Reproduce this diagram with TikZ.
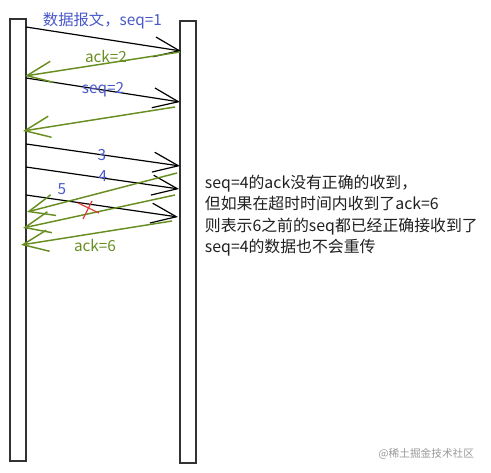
\documentclass[tikz,border=0pt]{standalone}
\usepackage{fontspec}
\newfontfamily\cjk{Noto Sans CJK SC}
\usetikzlibrary{arrows.meta}

\definecolor{seqblue}{RGB}{72,88,200}
\definecolor{ackgreen}{RGB}{104,142,34}
\definecolor{barline}{RGB}{50,50,50}
\definecolor{lossred}{RGB}{224,60,60}

\tikzset{every picture/.style={line width=0.75pt}}
\tikzset{
	host/.style={draw=barline, line width=1.6pt},
	segment/.style={draw=black, line width=0.9pt, -{Straight Barb[length=19pt,width=15pt]}},
	reply/.style={draw=ackgreen, line width=1.1pt, -{Straight Barb[length=19pt,width=16pt]}},
	seqlabel/.style={text=seqblue, font=\cjk\fontsize{11.5}{14}\selectfont},
	acklabel/.style={text=ackgreen, font=\cjk\fontsize{11.5}{14}\selectfont},
	note/.style={text=black!88, font=\cjk\fontsize{11.9}{16}\selectfont, align=left},
}

\begin{document}
\begin{tikzpicture}[x=0.75pt,y=0.75pt,yscale=-1,xscale=1]
	\useasboundingbox (0,0) rectangle (491,473);

	%Shape: Rectangle [sender]
	\draw [host] (10,19) rectangle (26,461);
	%Shape: Rectangle [receiver]
	\draw [host] (180,21) rectangle (196,463);

	% end points on the two hosts
	\coordinate (s1a) at (26,27);   \coordinate (s1b) at (181,51);
	\coordinate (a2a) at (180,52);  \coordinate (a2b) at (25,76);
	\coordinate (s2a) at (26,78);   \coordinate (s2b) at (180,102);
	\coordinate (a3a) at (175,107); \coordinate (a3b) at (23,131);
	\coordinate (s3a) at (26,144);  \coordinate (s3b) at (180,166);
	\coordinate (s4a) at (26,167);  \coordinate (s4b) at (179,189);
	\coordinate (s5a) at (26,195);  \coordinate (s5b) at (178,217);
	\coordinate (a4a) at (177,173); \coordinate (a4b) at (27,212);
	\coordinate (a5a) at (175,195); \coordinate (a5b) at (23,228);
	\coordinate (a6a) at (172,221); \coordinate (a6b) at (21,245);

	%Straight Lines [data]
	\draw [segment] (s1a) -- (s1b);
	\draw [segment] (s2a) -- (s2b);
	\draw [segment] (s3a) -- (s3b);
	\draw [segment] (s4a) -- (s4b);
	\draw [segment] (s5a) -- (s5b);
	%Straight Lines [acks]
	\draw [reply] (a2a) -- (a2b);
	\draw [reply] (a3a) -- (a3b);
	\draw [reply] (a4a) -- (a4b);
	\draw [reply] (a5a) -- (a5b);
	\draw [reply] (a6a) -- (a6b);

	%Lost ack
	\draw [lossred, line width=0.9pt] (78,203) -- (99,213) (83,219) -- (92,201);

	% Text Node
	\node [seqlabel, anchor=west] (l1) at (38,21) {数据报文，seq=1};
	% Text Node
	\node [acklabel] (l2) at (106,57) {ack=2};
	% Text Node
	\node [seqlabel] (l3) at (103,90) {seq=2};
	% Text Node
	\node [seqlabel] (l4) at (102,155) {3};
	% Text Node
	\node [seqlabel] (l5) at (103,176) {4};
	% Text Node
	\node [seqlabel] (l6) at (62,189) {5};
	% Text Node
	\node [acklabel] (l7) at (95,245) {ack=6};
	% Text Node
	\node [note, anchor=north west] (remark) at (200,170) {seq=4的ack没有正确的收到，\\但如果在超时时间内收到了ack=6\\则表示6之前的seq都已经正确接收到了\\seq=4的数据也不会重传};
	% Text Node
	\node [text=black!40, font=\cjk\fontsize{8}{10}\selectfont, anchor=east] (mark) at (479,454) {@稀土掘金技术社区};
\end{tikzpicture}
\end{document}
